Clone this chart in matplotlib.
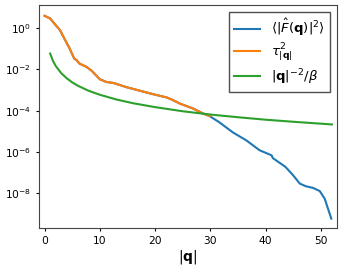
import numpy as np
import matplotlib
matplotlib.use("Agg")
from matplotlib import pyplot as plt

# values (log10 of y)
q_f = [0.0, 1.0, 2.0, 2.8, 3.25, 4.5, 5.35, 5.8, 6.26, 7.6, 8.5, 10.0, 11.2, 12.5,
       14.8, 17.2, 19.6, 22.1, 23.0, 24.5, 26.9, 28.7, 29.9, 31.6, 34.1, 36.5,
       38.9, 41.1, 41.3, 43.6, 45.0, 46.2, 47.3, 48.6, 49.8, 50.7, 51.9]
logF = [0.60, 0.47, 0.15, -0.10, -0.34, -0.97, -1.47, -1.55, -1.71, -1.88, -2.06,
        -2.48, -2.61, -2.66, -2.86, -3.03, -3.20, -3.36, -3.46, -3.66, -3.90,
        -4.14, -4.27, -4.56, -5.06, -5.44, -5.92, -6.17, -6.30, -6.73, -7.14,
        -7.54, -7.67, -7.75, -7.90, -8.27, -9.24]

q_tau = q_f[:23]
logtau = logF[:23]

q_g = [1.0, 1.5, 2.0, 3.0, 4.0, 5.0, 6.0, 8.0, 10.0, 13.0, 16.0, 20.0, 25.0,
       30.0, 35.0, 40.0, 45.0, 52.0]
logg = [-1.23, -1.58, -1.83, -2.18, -2.43, -2.63, -2.79, -3.04, -3.23, -3.46,
        -3.64, -3.83, -4.03, -4.19, -4.32, -4.44, -4.54, -4.67]

fig = plt.figure(figsize=(3.43, 2.69), dpi=100)
ax = fig.add_axes([0.114, 0.152, 0.868, 0.829])

ax.plot(q_f, 10**np.array(logF), label=r'$\langle|\hat{F}(\mathbf{q})|^2\rangle$')
ax.plot(q_tau, 10**np.array(logtau), label=r'$\tau^2_{|\mathbf{q}|}$')
ax.plot(q_g, 10**np.array(logg), label=r'$|\mathbf{q}|^{-2}/\beta$')

ax.set_yscale('log')
ax.set_xlim(-1.0, 52.9)
ax.set_ylim(10**-9.7, 10**1.12)
ax.set_yticks([1e0, 1e-2, 1e-4, 1e-6, 1e-8])
ax.minorticks_off()
ax.tick_params(labelsize=7.7, length=2.5)
for s in ax.spines.values():
    s.set_color('#444444')
ax.set_xlabel(r'$|\mathbf{q}|$', fontsize=10, labelpad=1)
ax.legend(loc='upper right', fontsize=9.5, fancybox=False, edgecolor='#222222',
          labelspacing=0.25)

fig.savefig('out.png', dpi=100)
